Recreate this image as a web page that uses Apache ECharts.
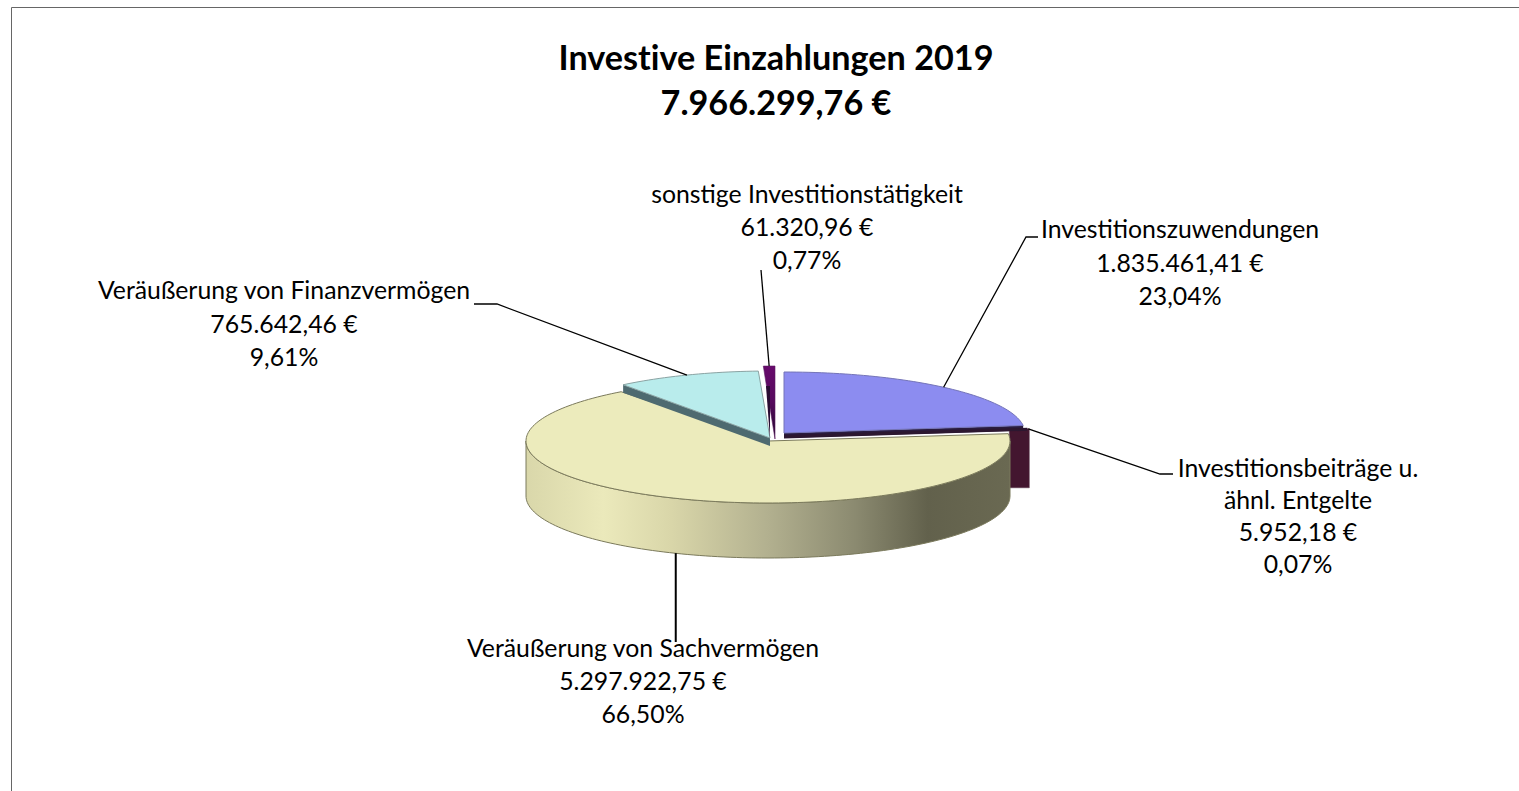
<!DOCTYPE html>
<html><head><meta charset="utf-8">
<style>html,body{margin:0;padding:0;background:#fff}#c{width:1519px;height:791px}#c text{font-variant-ligatures:none}</style>
<script src="https://cdn.jsdelivr.net/npm/echarts@6/dist/echarts.min.js"></script>
</head><body><div id="c"></div>
<script>
var titleLines = ['Investive Einzahlungen 2019', '7.966.299,76 €'];
var sliceNames = ['Investitionszuwendungen', 'Investitionsbeiträge u.\nähnl. Entgelte', 'Veräußerung von Sachvermögen', 'Veräußerung von Finanzvermögen', 'sonstige Investitionstätigkeit'];
var sliceValues = [1835461.41, 5952.18, 5297922.75, 765642.46, 61320.96];

var FONT = 'Lato, "Open Sans", sans-serif';
var total = sliceValues.reduce(function (a, b) { return a + b; }, 0);
var starts = [], acc = 0;
sliceValues.forEach(function (v) { starts.push(acc / total * 360); acc += v; });

// geometry of each exploded slice (pixels): apex, radii, wall height, label block and leader bends
var geom = [
  { cx: 784, cy: 433, rx: 241, ry: 61, h: 5, z: 30, top: '#8c8cf0', edge: '#7474b8', wall: '#2a1c3e',
    label: [1180, 212], lh: 33.5, bends: [[1026, 237], [1038, 237]] },
  { cx: 776, cy: 430, rx: 254, ry: 62, h: 59, z: 10, top: '#43162f', edge: '#43162f', wall: '#43162f',
    label: [1298, 451], lh: 32, bends: [[1160, 474], [1173, 474]] },
  { cx: 768, cy: 441, rx: 242, ry: 62, h: 55, z: 20, top: '#ecebbc', edge: '#7b7a5c', wall: '',
    label: [643, 631], lh: 33, bends: [] },
  { cx: 770, cy: 438, rx: 242, ry: 67, h: 8, z: 40, top: '#b9ecec', edge: '#8aa3a3', wall: '#4e6a70',
    label: [284, 273], lh: 33.5, bends: [[497, 304], [474, 304]] },
  { cx: 775, cy: 438, rx: 242, ry: 72, h: 2, z: 50, top: '', edge: '#5a1a60', wall: '#2a0c33',
    label: [807, 177], lh: 33, bends: [[761, 270]] }
];

function rad(d) { return d * Math.PI / 180; }
function rim(g, a, dy) {
  return [g.cx + g.rx * Math.sin(rad(a)), g.cy - g.ry * Math.cos(rad(a)) + (dy || 0)];
}
function arcPts(g, a0, a1, dy) {
  var pts = [], n = Math.max(2, Math.ceil(Math.abs(a1 - a0) / 1.5));
  for (var i = 0; i <= n; i++) pts.push(rim(g, a0 + (a1 - a0) * i / n, dy));
  return pts;
}
var money = new Intl.NumberFormat('de-DE', { minimumFractionDigits: 2, maximumFractionDigits: 2 });

function renderItem(params, api) {
  var i = params.dataIndex, g = geom[i], v = api.value(0);
  var a0 = starts[i], sweep = v / total * 360, a1 = a0 + sweep, mid = a0 + sweep / 2;
  var kids = [], z = g.z;
  if (i === 1) {
    // the tiny exploded sliver shows only as its dark side block
    var p = rim(geom[0], a1), x0 = p[0] - 14, x1 = p[0] + 6;
    kids.push({ type: 'polygon', z2: z, shape: { points: [[x0, p[1] + 3], [x1, p[1] + 3], [x1, p[1] + 3 + g.h], [x0, p[1] + 3 + g.h]] },
      style: { fill: g.wall, stroke: '#5b3a4c', lineWidth: 0.5 } });
    kids.push({ type: 'polygon', z2: 35, shape: { points: [[geom[0].cx, geom[0].cy + 2], [p[0] + 4, p[1] + 2], [p[0] + 4, p[1] + 5], [geom[0].cx, geom[0].cy + 5.5]] },
      style: { fill: '#2c1730' } });
  } else if (i === 2) {
    var visA = Math.max(a0, 90), visB = Math.min(a1, 270);
    var top = arcPts(g, visA, visB, 0), bot = arcPts(g, visB, visA, g.h);
    kids.push({ type: 'polygon', z2: z, shape: { points: top.concat(bot) },
      style: { stroke: g.edge, lineWidth: 1, fill: new echarts.graphic.LinearGradient(g.cx - g.rx, 0, g.cx + g.rx, 0, [
        { offset: 0, color: '#d9d7aa' }, { offset: 0.16, color: '#ebe9bb' }, { offset: 0.3, color: '#d9d6a9' },
        { offset: 0.5, color: '#b2b08f' }, { offset: 0.68, color: '#8b8a70' }, { offset: 0.83, color: '#62614c' },
        { offset: 1, color: '#6a6952' }], true) } });
    kids.push({ type: 'polygon', z2: z + 1, shape: { points: [[g.cx, g.cy]].concat(arcPts(g, a0, a1)) },
      style: { fill: g.top, stroke: g.edge, lineWidth: 1 } });
  } else if (i === 4) {
    var w = arcPts(g, a0, a1);
    kids.push({ type: 'polygon', z2: z, shape: { points: [[g.cx, g.cy + 1]].concat(w) },
      style: { stroke: g.edge, lineWidth: 0.6, fill: new echarts.graphic.LinearGradient(0, g.cy - g.ry, 0, g.cy, [
        { offset: 0, color: '#680a6c' }, { offset: 0.5, color: '#560a5e' }, { offset: 1, color: '#1f0a2a' }], true) } });
    kids.push({ type: 'polygon', z2: z + 1, shape: { points: [[g.cx - 5, g.cy - 52], [g.cx - 9, g.cy - 52], [g.cx - 5, g.cy + 1]] },
      style: { fill: g.wall } });
  } else {
    var rimEnd = i === 0 ? rim(g, a1) : rim(g, a0);
    kids.push({ type: 'polygon', z2: z, shape: { points: [[g.cx, g.cy], rimEnd, [rimEnd[0], rimEnd[1] + g.h], [g.cx, g.cy + g.h]] },
      style: { fill: g.wall } });
    kids.push({ type: 'polygon', z2: z + 1, shape: { points: [[g.cx, g.cy]].concat(arcPts(g, a0, a1)) },
      style: { fill: g.top, stroke: g.edge, lineWidth: 1 } });
  }

  // leader line, anchored on the slice's rim at its middle angle
  var anchor = i === 2 ? rim(g, mid, g.h) : (i === 1 ? [rim(geom[0], a1)[0] + 5, rim(geom[0], a1)[1] + 3] : rim(g, mid));
  var leader = i === 2 ? [[anchor[0] + 2, anchor[1]], [anchor[0] + 2, 642]] : [anchor].concat(g.bends);
  kids.push({ type: 'polyline', z2: 60, shape: { points: leader },
    style: { fill: 'none', stroke: '#000', lineWidth: i === 2 ? 2 : 1.3 } });

  // label text
  var txt = sliceNames[i] + '\n' + money.format(v) + ' €\n' + money.format(v / total * 100) + '%';
  kids.push({ type: 'text', z2: 70, style: { text: txt, x: g.label[0], y: g.label[1],
    fill: '#000', font: '400 24.8px ' + FONT, align: 'center', verticalAlign: 'top', lineHeight: g.lh } });
  return { type: 'group', children: kids };
}

var chart = echarts.init(document.getElementById('c'), null, { renderer: 'svg' });
chart.setOption({
  animation: false,
  backgroundColor: '#fff',
  title: { text: titleLines.join('\n'), left: 771, top: 29, textAlign: 'center',
    textStyle: { fontFamily: FONT, fontWeight: 700, fontSize: 34.2, lineHeight: 45, color: '#000' } },
  graphic: [{ type: 'polyline', silent: true, shape: { points: [[11.5, 791], [11.5, 7.5], [1519, 7.5]] },
    style: { fill: 'none', stroke: '#666', lineWidth: 1 } }],
  series: [{ type: 'custom', coordinateSystem: 'none', renderItem: renderItem, silent: true,
    data: sliceValues.map(function (v, i) { return { name: sliceNames[i], value: [v] }; }) }]
});
</script></body></html>
